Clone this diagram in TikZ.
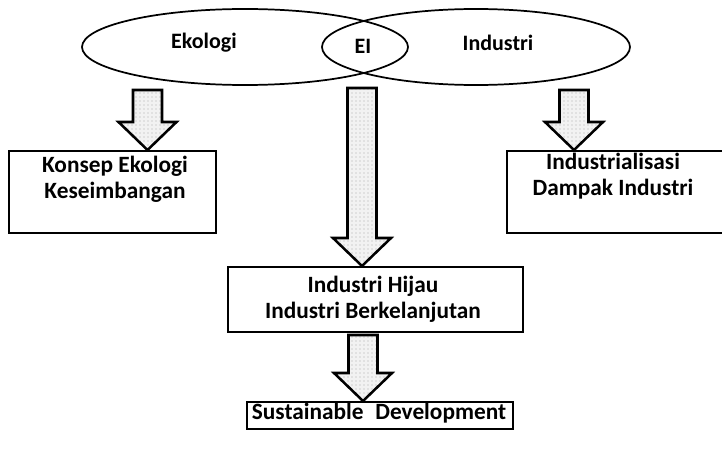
\documentclass[tikz,border=0pt]{standalone}
\usepackage{fontspec}
\setmainfont{Carlito}
\usetikzlibrary{shapes.geometric,patterns,calc}

% block arrow pointing down from coordinate #1 to coordinate #2 (same x)
\newcommand{\downblock}[2]{%
  \draw[barrow] ($(#1)+(-\shaftw,0)$) -- ($(#1)+(\shaftw,0)$)
    -- ($(#2)+(\shaftw,-\headl)$) -- ($(#2)+(\headw,-\headl)$) -- (#2)
    -- ($(#2)+(-\headw,-\headl)$) -- ($(#2)+(-\shaftw,-\headl)$) -- cycle;}
\def\shaftw{14.5}
\def\headw{29}
\def\headl{28}

\begin{document}
\begin{tikzpicture}[x=0.75pt,y=-0.75pt,
  oval/.style={ellipse,draw,line width=1.3pt,inner sep=0pt},
  lbl/.style={font=\fontsize{16.5}{18}\selectfont\bfseries},
  box/.style={rectangle,draw,line width=1.3pt,inner sep=0pt,anchor=north west},
  boxtext/.style={anchor=north,align=center,inner sep=0pt,
    font=\fontsize{17.5}{19.5}\selectfont\bfseries},
  barrow/.style={line width=1.9pt,line join=miter,
    preaction={fill=gray!10},pattern=dots,pattern color=gray!65}]
\useasboundingbox (0,0) rectangle (722,449);

% the two overlapping fields
\node[oval,minimum width=244.5pt,minimum height=57pt] (eko) at (245,47) {};
\node[oval,minimum width=231pt,minimum height=57pt] (ind) at (476,47) {};
\node[lbl] (teko) at (204,43) {Ekologi};
\node[lbl] (tei) at (363,46) {EI};
\node[lbl] (tind) at (498,43) {Industri};

% boxes
\node[box,minimum width=155.25pt,minimum height=61.5pt] (lbox) at (8,150) {};
\node[boxtext] (ltext) at (115,156) {Konsep Ekologi\\Keseimbangan};
\node[box,minimum width=165pt,minimum height=61.5pt] (rbox) at (506,150) {};
\node[boxtext] (rtext) at (613,153) {Industrialisasi\\Dampak Industri};
\node[box,minimum width=221.25pt,minimum height=48.75pt] (mbox) at (227,266) {};
\node[boxtext] (mtext) at (373,276) {Industri Hijau\\Industri Berkelanjutan};
\node[box,minimum width=199.5pt,minimum height=20.25pt] (sbox) at (246,401) {};
\node[boxtext] (stext) at (379,403) {Sustainable\enspace Development};

% arrow ends
\coordinate (la) at (147.5,90);
\coordinate (lt) at (la |- lbox.north);
\coordinate (ca) at (362,88);
\coordinate (ct) at (ca |- mbox.north);
\coordinate (ra) at (574,90);
\coordinate (rt) at (ra |- rbox.north);
\coordinate (ba) at (363,335);
\coordinate (bt) at (ba |- sbox.north);

\downblock{la}{lt}
\downblock{ca}{ct}
\downblock{ra}{rt}
\downblock{ba}{bt}
\end{tikzpicture}
\end{document}
